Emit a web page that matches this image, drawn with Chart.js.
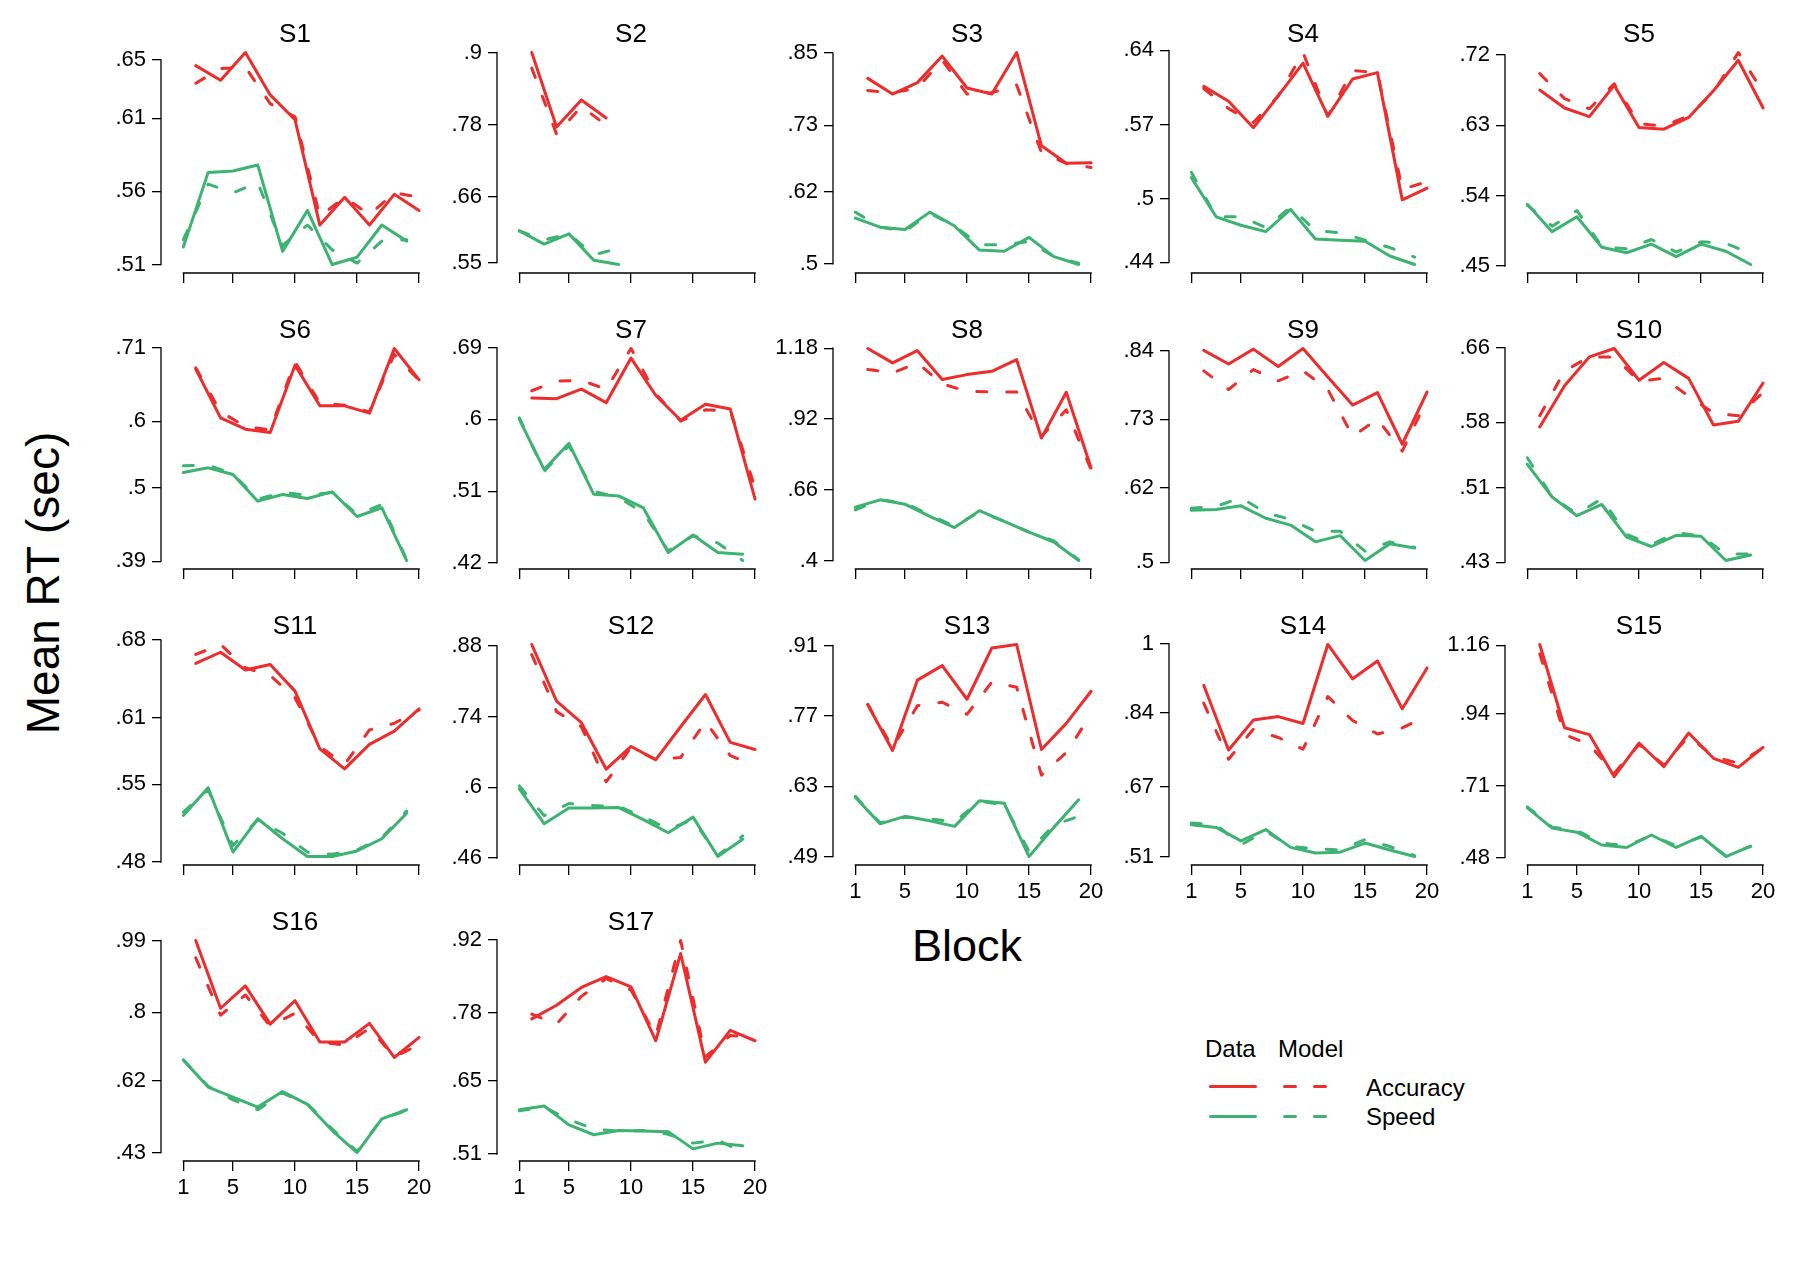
<!DOCTYPE html>
<html>
<head>
<meta charset="utf-8">
<script src="https://cdn.jsdelivr.net/npm/chart.js@4.4.1/dist/chart.umd.min.js"></script>
<style>
  html, body { margin: 0; padding: 0; background: #fff; }
  #page { position: relative; width: 1800px; height: 1275px; background: #fff; overflow: hidden;
          font-family: 'Liberation Sans', Arial, Helvetica, sans-serif; color: #000; }
  canvas { position: absolute; }
  .txt { position: absolute; line-height: 1; white-space: nowrap; }
  .ln { position: absolute; height: 3px; border-radius: 1.5px; }
</style>
</head>
<body>
<div id="page">
  <div class="txt" style="left:42.5px; top:583px; font-size:46px; transform:translate(-50%,-50%) rotate(-90deg);">Mean RT (sec)</div>
  <div class="txt" style="left:967px; top:945px; font-size:45px; transform:translate(-50%,-50%);">Block</div>

  <div class="txt" style="left:1205px; top:1037px; font-size:24px;">Data</div>
  <div class="txt" style="left:1278px; top:1037px; font-size:24px;">Model</div>
  <div class="txt" style="left:1366px; top:1076px; font-size:24px;">Accuracy</div>
  <div class="txt" style="left:1366px; top:1105px; font-size:24px;">Speed</div>
  <div class="ln" style="left:1209px; top:1085px; width:48px; background:#EE2C2C;"></div>
  <div class="ln" style="left:1283px; top:1085px; width:14px; background:#EE2C2C;"></div>
  <div class="ln" style="left:1313px; top:1085px; width:14px; background:#EE2C2C;"></div>
  <div class="ln" style="left:1209px; top:1115px; width:48px; background:#3CB371;"></div>
  <div class="ln" style="left:1283px; top:1115px; width:14px; background:#3CB371;"></div>
  <div class="ln" style="left:1313px; top:1115px; width:14px; background:#3CB371;"></div>
</div>
<script>
// ---------------- DATA ----------------
const accBlocks = [2, 4, 6, 8, 10, 12, 14, 16, 18, 20];
const spdBlocks = [1, 3, 5, 7, 9, 11, 13, 15, 17, 19];
const xTicks = [1, 5, 10, 15, 20];
const panelNames = ['S1','S2','S3','S4','S5','S6','S7','S8','S9','S10','S11','S12','S13','S14','S15','S16','S17'];

const s1AccData  = [.646, .636, .655, .626, .609, .537, .556, .537, .558, .547];
const s1AccModel = [.634, .644, .645, .620, .611, .543, .556, .544, .559, .556];
const s1SpdData  = [.522, .573, .574, .578, .519, .547, .510, .515, .537, .526];
const s1SpdModel = [.527, .565, .559, .566, .523, .537, .520, .511, .526, .527];
const s1Ticks = [.51, .56, .61, .65];

const s2AccData  = [.900, .776, .821, .791];
const s2AccModel = [.874, .764, .810, .779];
const s2SpdData  = [.603, .581, .598, .554, .547];
const s2SpdModel = [.603, .588, .598, .563, .574];
const s2Ticks = [.55, .66, .78, .9];

const s3AccData  = [.808, .782, .801, .845, .792, .782, .851, .696, .667, .668];
const s3AccModel = [.788, .784, .792, .838, .782, .784, .797, .685, .667, .660];
const s3SpdData  = [.576, .561, .557, .586, .563, .523, .521, .544, .512, .499];
const s3SpdModel = [.586, .561, .554, .584, .563, .532, .532, .537, .512, .501];
const s3Ticks = [.5, .62, .73, .85];

const s4AccData  = [.606, .592, .567, .597, .628, .578, .613, .619, .499, .510];
const s4AccModel = [.604, .585, .572, .597, .638, .578, .621, .619, .509, .516];
const s4SpdData  = [.520, .483, .475, .469, .490, .462, .461, .460, .446, .438];
const s4SpdModel = [.525, .483, .483, .473, .492, .470, .468, .461, .454, .445];
const s4Ticks = [.44, .5, .57, .64];

const s5AccData  = [.675, .652, .641, .681, .627, .625, .640, .674, .713, .652];
const s5AccModel = [.696, .664, .651, .683, .632, .629, .642, .672, .723, .672];
const s5SpdData  = [.529, .494, .513, .474, .467, .478, .462, .478, .469, .452];
const s5SpdModel = [.528, .501, .521, .475, .472, .484, .468, .481, .479, .466];
const s5Ticks = [.45, .54, .63, .72];

const s6AccData  = [.678, .605, .588, .583, .684, .623, .623, .612, .709, .662];
const s6AccModel = [.680, .614, .592, .587, .689, .627, .624, .614, .700, .661];
const s6SpdData  = [.523, .530, .520, .480, .490, .484, .494, .457, .470, .391];
const s6SpdModel = [.533, .534, .521, .483, .493, .489, .493, .460, .475, .392];
const s6Ticks = [.39, .5, .6, .71];

const s7AccData  = [.627, .626, .638, .621, .677, .630, .599, .619, .613, .500];
const s7AccModel = [.636, .648, .649, .638, .689, .632, .598, .612, .611, .514];
const s7SpdData  = [.600, .537, .570, .506, .504, .489, .433, .455, .433, .431];
const s7SpdModel = [.602, .535, .567, .510, .502, .483, .435, .454, .445, .423];
const s7Ticks = [.42, .51, .6, .69];

const s8AccData  = [1.179, 1.126, 1.171, 1.065, 1.083, 1.095, 1.138, .850, 1.018, .740];
const s8AccModel = [1.102, 1.089, 1.126, 1.049, 1.022, 1.019, 1.019, .856, .954, .734];
const s8SpdData  = [.596, .623, .607, .562, .521, .583, .544, .504, .468, .400];
const s8SpdModel = [.586, .623, .611, .568, .525, .580, .544, .504, .472, .403];
const s8Ticks = [.4, .66, .92, 1.18];

const s9AccData  = [.841, .819, .843, .815, .844, .798, .753, .773, .690, .774];
const s9AccModel = [.808, .778, .810, .792, .808, .778, .703, .730, .679, .762];
const s9SpdData  = [.584, .585, .591, .571, .560, .533, .543, .503, .530, .523];
const s9SpdModel = [.587, .590, .604, .580, .569, .550, .550, .518, .533, .524];
const s9Ticks = [.5, .62, .73, .84];

const s10AccData  = [.575, .619, .650, .659, .625, .644, .627, .577, .581, .622];
const s10AccModel = [.587, .635, .650, .650, .624, .627, .608, .590, .587, .612];
const s10SpdData  = [.535, .500, .480, .492, .457, .447, .459, .458, .432, .438];
const s10SpdModel = [.542, .500, .482, .498, .460, .449, .462, .458, .439, .439];
const s10Ticks = [.43, .51, .58, .66];

const s11AccData  = [.659, .669, .653, .658, .634, .582, .564, .586, .598, .618];
const s11AccModel = [.667, .676, .655, .648, .628, .584, .568, .599, .605, .617];
const s11SpdData  = [.522, .547, .489, .519, .501, .485, .485, .490, .501, .524];
const s11SpdModel = [.525, .545, .495, .518, .506, .489, .487, .491, .502, .526];
const s11Ticks = [.48, .55, .61, .68];

const s12AccData  = [.883, .771, .728, .636, .681, .655, .720, .784, .689, .675];
const s12AccModel = [.863, .750, .720, .611, .679, .655, .659, .730, .663, .643];
const s12SpdData  = [.597, .528, .559, .559, .560, .536, .510, .541, .463, .497];
const s12SpdModel = [.603, .544, .568, .564, .562, .542, .517, .536, .465, .504];
const s12Ticks = [.46, .6, .74, .88];

const s13AccData  = [.792, .701, .841, .870, .803, .905, .912, .703, .755, .819];
const s13AccModel = [.793, .707, .790, .797, .773, .837, .827, .652, .697, .773];
const s13SpdData  = [.608, .555, .570, .561, .550, .601, .596, .490, .548, .603];
const s13SpdModel = [.610, .557, .568, .565, .559, .600, .593, .500, .553, .570];
const s13Ticks = [.49, .63, .77, .91];

const s14AccData  = [.904, .755, .824, .832, .816, .998, .919, .960, .850, .944];
const s14AccModel = [.863, .734, .803, .784, .757, .878, .823, .792, .806, .834];
const s14SpdData  = [.583, .577, .546, .572, .531, .518, .520, .541, .525, .510];
const s14SpdModel = [.587, .583, .537, .568, .533, .528, .525, .549, .533, .512];
const s14Ticks = [.51, .67, .84, 1];

const s15AccData  = [1.163, .896, .874, .739, .847, .771, .879, .798, .769, .833];
const s15AccModel = [1.133, .874, .842, .750, .842, .777, .869, .804, .782, .831];
const s15SpdData  = [.639, .574, .561, .520, .512, .552, .512, .548, .483, .516];
const s15SpdModel = [.642, .577, .566, .526, .518, .550, .518, .545, .485, .516];
const s15Ticks = [.48, .71, .94, 1.16];

const s16AccData  = [.990, .811, .870, .769, .831, .722, .722, .771, .681, .734];
const s16AccModel = [.944, .793, .846, .764, .798, .722, .714, .758, .683, .714];
const s16SpdData  = [.674, .603, .576, .550, .591, .557, .488, .430, .519, .543];
const s16SpdModel = [.675, .605, .569, .543, .587, .559, .492, .433, .519, .541];
const s16Ticks = [.43, .62, .8, .99];

const s17AccData  = [.769, .795, .829, .850, .830, .727, .894, .686, .747, .727];
const s17AccModel = [.778, .759, .812, .846, .824, .737, .919, .696, .737, .733];
const s17SpdData  = [.595, .602, .566, .547, .555, .554, .553, .520, .531, .526];
const s17SpdModel = [.593, .600, .576, .558, .554, .555, .548, .531, .537, .513];
const s17Ticks = [.51, .65, .78, .92];

// ---------------- TABLE built from the arrays ----------------
const accDataList  = [s1AccData, s2AccData, s3AccData, s4AccData, s5AccData, s6AccData, s7AccData, s8AccData, s9AccData, s10AccData, s11AccData, s12AccData, s13AccData, s14AccData, s15AccData, s16AccData, s17AccData];
const accModelList = [s1AccModel, s2AccModel, s3AccModel, s4AccModel, s5AccModel, s6AccModel, s7AccModel, s8AccModel, s9AccModel, s10AccModel, s11AccModel, s12AccModel, s13AccModel, s14AccModel, s15AccModel, s16AccModel, s17AccModel];
const spdDataList  = [s1SpdData, s2SpdData, s3SpdData, s4SpdData, s5SpdData, s6SpdData, s7SpdData, s8SpdData, s9SpdData, s10SpdData, s11SpdData, s12SpdData, s13SpdData, s14SpdData, s15SpdData, s16SpdData, s17SpdData];
const spdModelList = [s1SpdModel, s2SpdModel, s3SpdModel, s4SpdModel, s5SpdModel, s6SpdModel, s7SpdModel, s8SpdModel, s9SpdModel, s10SpdModel, s11SpdModel, s12SpdModel, s13SpdModel, s14SpdModel, s15SpdModel, s16SpdModel, s17SpdModel];
const tickList = [s1Ticks, s2Ticks, s3Ticks, s4Ticks, s5Ticks, s6Ticks, s7Ticks, s8Ticks, s9Ticks, s10Ticks, s11Ticks, s12Ticks, s13Ticks, s14Ticks, s15Ticks, s16Ticks, s17Ticks];

// ---------------- STYLE / LAYOUT ----------------
const RED = '#EE2C2C';
const GREEN = '#3CB371';
const FONT = "'Liberation Sans', Arial, Helvetica, sans-serif";
const LW = 3;
const DASH = [10, 20];
const AXIS_LW = 1.3;

const COL0 = 161.3, COL_PITCH = 335.85;
const ROW_BOTTOM0 = 273.3, ROW_PITCH = 295.9;
const PLOT_W = 268, PLOT_H = 229;
const YW = 72, XH = 40, TITLE_H = 19, TITLE_PAD = 3, PAD_T = 1, PAD_R = 14;

function fmtTick(v) {
  const s = String(Math.round(v * 100) / 100);
  return s.replace(/^0\./, '.');
}

const axisLines = {
  id: 'axisLines',
  afterDraw(chart) {
    const { ctx, chartArea, scales } = chart;
    const x = scales.x, y = scales.y;
    ctx.save();
    ctx.strokeStyle = '#000';
    ctx.lineWidth = AXIS_LW;
    ctx.lineCap = 'square';
    ctx.beginPath();
    const yt = y.ticks;
    const xl = Math.round(chartArea.left);
    ctx.moveTo(xl, y.getPixelForValue(yt[0].value));
    ctx.lineTo(xl, y.getPixelForValue(yt[yt.length - 1].value));
    const xt = x.ticks;
    const yb = Math.round(chartArea.bottom);
    ctx.moveTo(x.getPixelForValue(xt[0].value), yb);
    ctx.lineTo(x.getPixelForValue(xt[xt.length - 1].value), yb);
    ctx.stroke();
    ctx.restore();
  }
};

function series(blocks, vals, color, dashed) {
  return {
    data: vals.map((v, i) => ({ x: blocks[i], y: v })),
    borderColor: color,
    backgroundColor: color,
    borderWidth: LW,
    borderDash: dashed ? DASH : [],
    borderCapStyle: 'round',
    borderJoinStyle: 'round',
    pointRadius: 0,
    pointHoverRadius: 0,
    tension: 0,
    fill: false
  };
}

const page = document.getElementById('page');

panelNames.forEach((name, i) => {
  const row = Math.floor(i / 5), col = i % 5;
  const showX = (row === 2 && col >= 2) || row === 3;
  const all = [...accDataList[i], ...accModelList[i], ...spdDataList[i], ...spdModelList[i]];
  const lo = Math.min(...all), hi = Math.max(...all);
  const pad = 0.04 * (hi - lo);
  const yTicks = tickList[i];

  const plotLeft = Math.round(COL0 + col * COL_PITCH);
  const plotTop = Math.round(ROW_BOTTOM0 + row * ROW_PITCH - PLOT_H);
  const W = YW + PLOT_W + PAD_R;
  const H = PAD_T + TITLE_PAD + TITLE_H + PLOT_H + XH;

  const cv = document.createElement('canvas');
  cv.width = W; cv.height = H;
  cv.style.width = W + 'px'; cv.style.height = H + 'px';
  cv.style.left = (plotLeft - YW) + 'px';
  cv.style.top = (plotTop - TITLE_H - TITLE_PAD - PAD_T) + 'px';
  page.appendChild(cv);

  new Chart(cv.getContext('2d'), {
    type: 'line',
    data: {
      datasets: [
        series(accBlocks, accDataList[i], RED, false),
        series(accBlocks, accModelList[i], RED, true),
        series(spdBlocks, spdDataList[i], GREEN, false),
        series(spdBlocks, spdModelList[i], GREEN, true)
      ]
    },
    options: {
      responsive: false,
      animation: false,
      devicePixelRatio: 1,
      events: [],
      layout: { padding: { top: PAD_T, right: PAD_R, left: 0, bottom: 0 } },
      plugins: {
        legend: { display: false },
        tooltip: { enabled: false },
        title: {
          display: true, text: name, fullSize: false, color: '#000',
          font: { family: FONT, size: 26, weight: 'normal', lineHeight: TITLE_H + 'px' },
          padding: { top: TITLE_PAD, bottom: 0 }
        }
      },
      scales: {
        x: {
          type: 'linear', min: -0.8, max: 20.8,
          afterBuildTicks: s => { s.ticks = xTicks.map(v => ({ value: v })); },
          afterFit: s => { s.height = XH; },
          border: { display: false },
          grid: { drawOnChartArea: false, drawTicks: true, tickLength: 10, color: '#000', lineWidth: AXIS_LW },
          ticks: {
            display: showX, autoSkip: false, maxRotation: 0, minRotation: 0,
            color: '#000', padding: 4, font: { family: FONT, size: 22 },
            callback: v => String(v)
          }
        },
        y: {
          type: 'linear', min: lo - pad, max: hi + pad,
          afterBuildTicks: s => { s.ticks = yTicks.map(v => ({ value: v })); },
          afterFit: s => { s.width = YW; },
          border: { display: false },
          grid: { drawOnChartArea: false, drawTicks: true, tickLength: 9, color: '#000', lineWidth: AXIS_LW },
          ticks: {
            autoSkip: false, color: '#000', padding: 6, font: { family: FONT, size: 22 },
            callback: v => fmtTick(v)
          }
        }
      }
    },
    plugins: [axisLines]
  });
});
</script>
</body>
</html>
